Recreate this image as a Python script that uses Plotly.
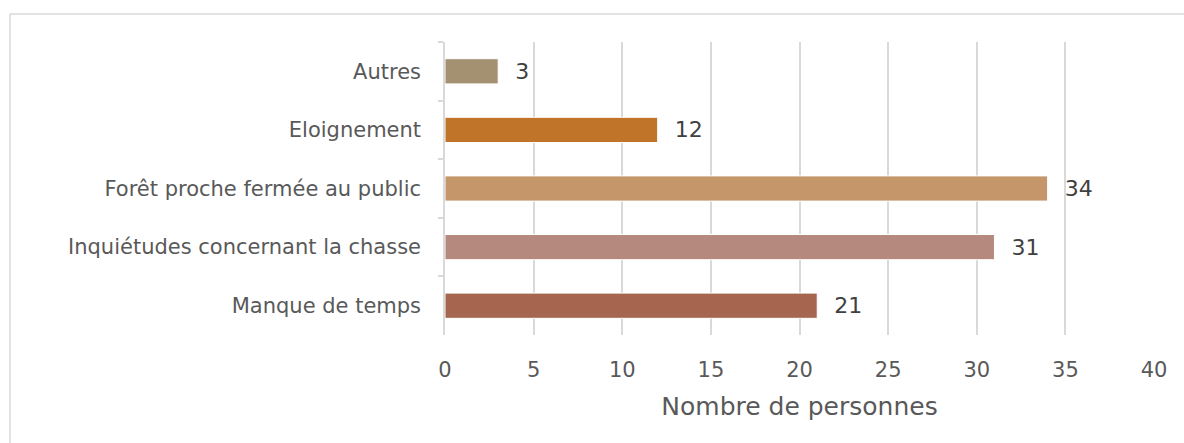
import plotly.graph_objects as go

# données du graphique
categories = ["Autres", "Eloignement", "Forêt proche fermée au public",
              "Inquiétudes concernant la chasse", "Manque de temps"]
valeurs = [3, 12, 34, 31, 21]
couleurs = ["#A39171", "#C07429", "#C4966A", "#B5897E", "#A6654F"]

W, H = 1184, 443
L, R, T, B = 445, 30, 42, 108
pw, ph = W - L - R, H - T - B

fig = go.Figure(go.Bar(
    x=valeurs,
    y=categories,
    orientation="h",
    marker=dict(color=couleurs, line=dict(color="white", width=1)),
    width=0.43,
    text=valeurs,
    texttemplate="  %{x}",
    textposition="outside",
    textfont=dict(size=22, color="#404040"),
    cliponaxis=False,
))

fig.update_xaxes(
    range=[0, 40],
    dtick=5,
    showgrid=True,
    gridcolor="#D9D9D9",
    gridwidth=1.5,
    zeroline=False,
    showline=False,
    ticks="",
    ticklabelstandoff=20,
    tickfont=dict(size=21, color="#595959"),
    title=dict(text="Nombre de personnes", font=dict(size=25, color="#595959"), standoff=16),
)

fig.update_yaxes(
    categoryorder="array",
    categoryarray=categories,
    autorange="reversed",
    showline=True,
    linecolor="#D9D9D9",
    linewidth=1.5,
    ticks="outside",
    tickson="boundaries",
    ticklen=5,
    tickcolor="#D9D9D9",
    tickwidth=1.5,
    ticklabelstandoff=18,
    showgrid=False,
    tickfont=dict(size=21, color="#595959"),
)

# cadre gris autour du graphique
fig.add_shape(
    type="rect", xref="paper", yref="paper",
    x0=(10 - L) / pw, x1=(W + 5 - L) / pw,
    y0=-(H + 5 - T - ph) / ph, y1=(H - 14 - B) / ph,
    line=dict(color="#D9D9D9", width=1.5),
)

fig.update_layout(
    width=W, height=H,
    margin=dict(l=L, r=R, t=T, b=B),
    plot_bgcolor="white",
    paper_bgcolor="white",
    font=dict(family="Century Gothic, DejaVu Sans, sans-serif", color="#595959"),
    showlegend=False,
    bargap=0.57,
)

fig.write_html("out.html", config={"displayModeBar": False},
               post_script="document.body.style.margin='0';")
